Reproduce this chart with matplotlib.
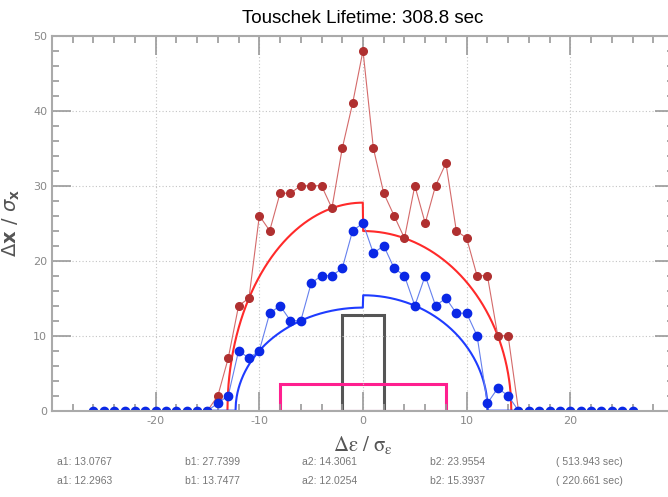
import numpy as np
import matplotlib
matplotlib.use("Agg")
import matplotlib.pyplot as plt
from matplotlib.ticker import MultipleLocator, FixedLocator
from matplotlib.patches import Rectangle

plt.rcParams["axes.unicode_minus"] = False

# данные
TITLE = "Touschek Lifetime: 308.8 sec"

blue_x = list(range(-26, 27))
blue_y = [0] * 11 + [0, 1, 2, 8, 7, 8, 13, 14, 12, 12, 17, 18, 18, 19, 24, 25,
                     21, 22, 19, 18, 14, 18, 14, 15, 13, 13, 10, 1, 3, 2, 0] + [0] * 11

red_x = list(range(-15, 16))
red_y = [0, 2, 7, 14, 15, 26, 24, 29, 29, 30, 30, 30, 27, 35, 41, 48,
         35, 29, 26, 23, 30, 25, 30, 33, 24, 23, 18, 18, 10, 10, 0]

x_major = [-20, -10, 0, 10, 20]

# параметры эллипсов (из подписи внизу)
fit_red = {"a1": 13.0767, "b1": 27.7399, "a2": 14.3061, "b2": 23.9554, "life": 513.943}
fit_blue = {"a1": 12.2963, "b1": 13.7477, "a2": 12.0254, "b2": 15.3937, "life": 220.661}

gray_box = (2.0, 12.8)    # полуширина, высота
pink_box = (8.0, 3.6)


def ellipse_curve(p, xmin, xmax):
    x = np.linspace(xmin, xmax, 800)
    y = np.zeros_like(x)
    left = (x >= -p["a1"]) & (x <= 0)
    right = (x > 0) & (x <= p["a2"])
    y[left] = p["b1"] * np.sqrt(np.clip(1 - (x[left] / p["a1"]) ** 2, 0, None))
    y[right] = p["b2"] * np.sqrt(np.clip(1 - (x[right] / p["a2"]) ** 2, 0, None))
    return x, y


fig = plt.figure(figsize=(6.68, 4.97), dpi=100)
ax = fig.add_axes([52 / 668, 1 - 410.7 / 497, 622 / 668, 375 / 497])

ax.set_xlim(-30, 30)
ax.set_ylim(0, 50)
ax.xaxis.set_major_locator(FixedLocator(x_major))
ax.xaxis.set_minor_locator(MultipleLocator(2))
ax.yaxis.set_major_locator(MultipleLocator(10))
ax.yaxis.set_minor_locator(MultipleLocator(2))
ax.grid(True, which="major", linestyle=(0, (1, 2)), color="#c4c4c4", linewidth=0.8)

ax.tick_params(which="both", direction="in", top=True, right=True, colors="#999999",
               labelcolor="#888888", labelsize=8, width=1.2)
ax.tick_params(which="major", length=14)
ax.tick_params(which="minor", length=5)
for s in ax.spines.values():
    s.set_color("#aaaaaa")
    s.set_linewidth(1.5)

# прямоугольники
gw, gh = gray_box
ax.add_patch(Rectangle((-gw, 0), 2 * gw, gh, fill=False, edgecolor="#555555", linewidth=2.2))
pw, ph = pink_box
ax.add_patch(Rectangle((-pw, 0), 2 * pw, ph, fill=False, edgecolor="#ff1f8f", linewidth=2.2))

# эллипсы
xr, yr = ellipse_curve(fit_red, -fit_red["a1"], fit_red["a2"])
ax.plot(xr, yr, color="#ff2a2a", linewidth=1.5)
xb, yb = ellipse_curve(fit_blue, -15, 15)
ax.plot(xb, yb, color="#1f3cff", linewidth=1.5)

# точки
ax.plot(red_x, red_y, color="#d46a6a", linewidth=0.8, marker="o", markersize=5.5,
        markerfacecolor="#b03030", markeredgecolor="#b03030")
ax.plot(blue_x, blue_y, color="#6580ee", linewidth=0.8, marker="o", markersize=6,
        markerfacecolor="#0a28e6", markeredgecolor="#0a28e6")

ax.set_title(TITLE, fontsize=13.5, family="Liberation Sans", pad=9)
ax.set_xlabel(r"$\mathrm{\Delta\varepsilon\ /\ \sigma_{\varepsilon}}$", fontsize=15,
              color="#555555", labelpad=6, math_fontfamily="stix")
ax.set_ylabel(r"$\Delta\mathbf{x}\ /\ \sigma_{\mathbf{x}}$", fontsize=14,
              color="#555555", labelpad=8, math_fontfamily="dejavusans")

# подписи параметров
cols = [57, 185, 302, 430, 556]
for row_y, p in [(462, fit_red), (481, fit_blue)]:
    texts = [f"a1: {p['a1']:.4f}", f"b1: {p['b1']:.4f}", f"a2: {p['a2']:.4f}",
             f"b2: {p['b2']:.4f}", f"( {p['life']:.3f} sec)"]
    for cx, t in zip(cols, texts):
        fig.text(cx / 668, 1 - row_y / 497, t, fontsize=7.5, color="#777777",
                 family="Liberation Sans", va="center", ha="left")

fig.savefig("out.png", dpi=100)
